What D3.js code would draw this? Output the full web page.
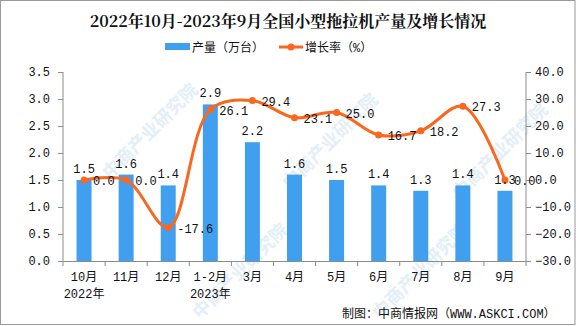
<!DOCTYPE html>
<html><head><meta charset="utf-8">
<script src="https://cdn.jsdelivr.net/npm/d3@7"></script>
<style>body{margin:0;background:#fff}svg{display:block}</style>
</head><body>
<script>
const categories = ["10月","11月","12月","1-2月","3月","4月","5月","6月","7月","8月","9月"];
const subLabels = ["2022年","","","2023年","","","","","","",""];
const production = [1.5,1.6,1.4,2.9,2.2,1.6,1.5,1.4,1.3,1.4,1.3];
const growth = [0.0,0.0,-17.6,26.1,29.4,23.1,25.0,16.7,18.2,27.3,0.0];
const leftTicks = [0,0.5,1.0,1.5,2.0,2.5,3.0,3.5];
const rightTicks = [-30,-20,-10,0,10,20,30,40];
const title = "2022年10月-2023年9月全国小型拖拉机产量及增长情况";

const W=576,H=326, x0=63, x1=526, yTop=72, yBot=261;
const barColor="#419ff0", lineColor="#fa671e", axisColor="#8c8c8c";
const font="'Liberation Mono','Noto Sans CJK SC',monospace";
const svg=d3.select("body").append("svg").attr("width",W).attr("height",H);
svg.append("rect").attr("x",0.5).attr("y",0.5).attr("width",W-1.5).attr("height",H-2).attr("fill","#fff").attr("stroke","#999");

// watermarks (faint)
const wm=svg.append("g").attr("fill","#e3eef7").attr("font-family","'Noto Sans CJK SC'").attr("font-size",18).attr("font-weight","bold");
[[110,180],[290,190],[460,200],[200,320],[380,320]].forEach(([x,y])=>{
  wm.append("text").attr("transform",`translate(${x},${y}) rotate(-45)`).text("中商产业研究院");
});

const x=d3.scaleBand().domain(categories).range([x0,x1]);
const yL=d3.scaleLinear().domain([0,3.5]).range([yBot,yTop]);
const yR=d3.scaleLinear().domain([-30,40]).range([yBot,yTop]);

// title
svg.append("text").attr("x",W/2).attr("y",27).attr("text-anchor","middle").attr("font-family","'Noto Serif CJK SC','Noto Sans CJK SC'").attr("font-weight","bold").attr("font-size",16).attr("fill","#111").text(title);

// legend
const lg=svg.append("g").attr("font-family",font).attr("font-size",12).attr("fill","#111");
lg.append("rect").attr("x",165).attr("y",43).attr("width",25).attr("height",7).attr("fill",barColor);
lg.append("text").attr("x",192).attr("y",52).text("产量（万台）");
lg.append("line").attr("x1",279).attr("x2",303).attr("y1",47).attr("y2",47).attr("stroke",lineColor).attr("stroke-width",3);
lg.append("circle").attr("cx",291).attr("cy",47).attr("r",3.5).attr("fill",lineColor);
lg.append("text").attr("x",305).attr("y",52).text("增长率（%）");

// bars
const bw=15;
svg.append("g").selectAll("rect").data(production).join("rect")
 .attr("x",(d,i)=>x(categories[i])+x.bandwidth()/2-bw/2).attr("width",bw)
 .attr("y",d=>yL(d)).attr("height",d=>yBot-yL(d)).attr("fill",barColor);

// axes
const axL=svg.append("g").attr("transform",`translate(${x0},0)`).call(d3.axisLeft(yL).tickValues(leftTicks).tickFormat(d3.format(".1f")).tickSize(5).tickPadding(8));
const axR=svg.append("g").attr("transform",`translate(${x1},0)`).call(d3.axisRight(yR).tickValues(rightTicks).tickFormat(d3.format(".1f")).tickSize(5).tickPadding(4));
const axB=svg.append("g").attr("transform",`translate(0,${yBot})`).call(d3.axisBottom(x).tickSize(0).tickFormat(""));
[axL,axR,axB].forEach(a=>{a.selectAll("path,line").attr("stroke",axisColor);a.selectAll("text").attr("font-family",font).attr("font-size",12).attr("fill","#111");});
axL.select(".domain").attr("d",`M0,${yTop}V${yBot}`);
axR.select(".domain").attr("d",`M0,${yTop}V${yBot}`);
const seps=categories.map((c,i)=>x(c)).concat([x1]);
svg.append("g").selectAll("line").data(seps).join("line").attr("x1",d=>d).attr("x2",d=>d).attr("y1",yBot).attr("y2",yBot+5).attr("stroke",axisColor);

// x labels
const xl=svg.append("g").attr("font-family",font).attr("font-size",12).attr("fill","#111").attr("text-anchor","middle");
categories.forEach((c,i)=>{
  const cx=x(c)+x.bandwidth()/2;
  xl.append("text").attr("x",cx).attr("y",281).text(c);
  if(subLabels[i]) xl.append("text").attr("x",cx).attr("y",298).text(subLabels[i]);
});

// line
const pts=growth.map((g,i)=>[x(categories[i])+x.bandwidth()/2,yR(g)]);
svg.append("path").attr("d",d3.line().curve(d3.curveCatmullRom.alpha(0.5))(pts)).attr("fill","none").attr("stroke",lineColor).attr("stroke-width",3);
svg.append("g").selectAll("circle").data(pts).join("circle").attr("cx",d=>d[0]).attr("cy",d=>d[1]).attr("r",3.5).attr("fill",lineColor);

// labels
const lab=svg.append("g").attr("font-family",font).attr("font-size",12).attr("fill","#111");
production.forEach((v,i)=>{
  lab.append("text").attr("x",x(categories[i])+x.bandwidth()/2).attr("y",yL(v)-7).attr("text-anchor","middle").text(v.toFixed(1));
});
growth.forEach((g,i)=>{
  lab.append("text").attr("x",pts[i][0]+9).attr("y",pts[i][1]+5).text(g.toFixed(1));
});

// footer
svg.append("text").attr("x",342).attr("y",318).attr("font-family",font).attr("font-size",12).attr("fill","#111").text("制图：中商情报网（WWW.ASKCI.COM）");
</script>
</body></html>
